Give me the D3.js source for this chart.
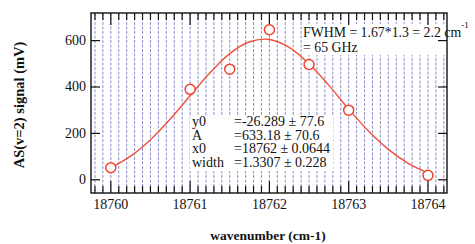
<!DOCTYPE html>
<html>
<head>
<meta charset="utf-8">
<script src="https://cdn.jsdelivr.net/npm/d3@7"></script>
<style>
  body { margin: 0; background: #fff; }
  svg { display: block; }
  text { font-family: "Liberation Serif", "DejaVu Serif", serif; fill: #111; }
</style>
</head>
<body>
<div id="chart"></div>
<script>
// measured points
var wavenumber = [18760, 18761, 18761.5, 18762, 18762.5, 18763, 18764];
var signal = [52, 390, 477, 647, 497, 300, 19];

// fit curve
var fitX = [18760, 18760.25, 18760.5, 18760.75, 18761, 18761.25, 18761.5, 18761.75,
            18762, 18762.25, 18762.5, 18762.75, 18763, 18763.25, 18763.5, 18763.75, 18764];
var fitY = [52, 102, 173, 262, 362, 461, 544, 595, 605, 571, 500, 407, 305, 210, 131, 71, 30];

var xTicks = [18760, 18761, 18762, 18763, 18764];
var yTicks = [0, 200, 400, 600];

var fitNames = ['y0', 'A', 'x0', 'width'];
var fitValues = ['=-26.289 \u00b1 77.6', '=633.18 \u00b1 70.6', '=18762 \u00b1 0.0644', '=1.3307 \u00b1 0.228'];

var width = 475, height = 244;
var plotL = 91, plotR = 447, plotT = 13, plotB = 193;

var svg = d3.select('#chart').append('svg')
  .attr('width', width)
  .attr('height', height);

var x = d3.scaleLinear().domain([18759.75, 18764.24]).range([plotL, plotR]);
var y = d3.scaleLinear().domain([-57, 719]).range([plotB, plotT]);

// minor steps every 0.1
var minor = d3.range(0, 45).map(function(i){ return +(18759.8 + i * 0.1).toFixed(1); });
var isMajor = function(v){ return Math.abs(v - Math.round(v)) < 1e-6; };

// dashed vertical grid
svg.append('g').selectAll('line')
  .data(minor)
  .enter()
  .append('line')
  .attr('x1', function(d){ return x(d) }).attr('x2', function(d){ return x(d) })
  .attr('y1', plotT).attr('y2', plotB)
  .attr('stroke', '#8c8cd2')
  .attr('stroke-width', 1)
  .attr('stroke-dasharray', '3,1.5');

// white boxes behind annotations
svg.append('rect').attr('x', 302).attr('y', 24).attr('width', 173).attr('height', 31).attr('fill', '#fff');
svg.append('rect').attr('x', 190).attr('y', 115).attr('width', 143).attr('height', 56).attr('fill', '#fff');

// inner ticks on all four sides
var tickG = svg.append('g').attr('stroke', '#111').attr('stroke-width', 1.2);
tickG.selectAll('.tt').data(minor).enter().append('line')
  .attr('x1', function(d){ return x(d) }).attr('x2', function(d){ return x(d) })
  .attr('y1', plotT).attr('y2', function(d){ return plotT + (isMajor(d) ? 12 : 7) });
tickG.selectAll('.bt').data(minor).enter().append('line')
  .attr('x1', function(d){ return x(d) }).attr('x2', function(d){ return x(d) })
  .attr('y1', plotB).attr('y2', function(d){ return plotB - (isMajor(d) ? 12 : 7) });
tickG.selectAll('.lt').data(yTicks).enter().append('line')
  .attr('x1', plotL).attr('x2', plotL + 9)
  .attr('y1', function(d){ return y(d) }).attr('y2', function(d){ return y(d) });
tickG.selectAll('.rt').data(yTicks).enter().append('line')
  .attr('x1', plotR - 9).attr('x2', plotR)
  .attr('y1', function(d){ return y(d) }).attr('y2', function(d){ return y(d) });

// frame
svg.append('rect')
  .attr('x', plotL).attr('y', plotT)
  .attr('width', plotR - plotL).attr('height', plotB - plotT)
  .attr('fill', 'none').attr('stroke', '#111').attr('stroke-width', 1.4);

// tick labels
svg.append('g').selectAll('text').data(xTicks).enter().append('text')
  .attr('x', function(d){ return x(d) }).attr('y', 209)
  .attr('text-anchor', 'middle').attr('font-size', 14)
  .text(function(d){ return d });
svg.append('g').selectAll('text').data(yTicks).enter().append('text')
  .attr('x', 86).attr('y', function(d){ return y(d) + 4.5 })
  .attr('text-anchor', 'end').attr('font-size', 14)
  .text(function(d){ return d });

// axis titles
svg.append('text')
  .attr('x', 268).attr('y', 240)
  .attr('text-anchor', 'middle').attr('font-size', 13.5).attr('font-weight', 'bold')
  .text('wavenumber (cm-1)');
svg.append('text')
  .attr('transform', 'translate(24,105) rotate(-90)')
  .attr('text-anchor', 'middle').attr('font-size', 14.5).attr('font-weight', 'bold')
  .text('AS(v=2) signal (mV)');

// fit curve
var line = d3.line()
  .x(function(d){ return x(d[0]) })
  .y(function(d){ return y(d[1]) })
  .curve(d3.curveCatmullRom);
svg.append('path')
  .datum(fitX.map(function(v, i){ return [v, fitY[i]]; }))
  .attr('d', line)
  .attr('fill', 'none')
  .attr('stroke', '#f0503a')
  .attr('stroke-width', 1.4);

// markers
svg.append('g').selectAll('circle')
  .data(wavenumber.map(function(v, i){ return [v, signal[i]]; }))
  .enter()
  .append('circle')
  .attr('cx', function(d){ return x(d[0]) })
  .attr('cy', function(d){ return y(d[1]) })
  .attr('r', 5)
  .attr('fill', '#fff')
  .attr('stroke', '#f0402e')
  .attr('stroke-width', 1.5);

// FWHM note
var note = svg.append('text').attr('font-size', 13.8);
note.append('tspan').attr('x', 303).attr('y', 37).text('FWHM = 1.67*1.3 = 2.2 cm');
note.append('tspan').attr('dy', -9).attr('font-size', 9).text('-1');
svg.append('text').attr('font-size', 13.8).attr('x', 303).attr('y', 52).text('= 65 GHz');

// fit results
svg.append('g').selectAll('text').data(fitNames).enter().append('text')
  .attr('x', 192).attr('y', function(d, i){ return 126 + i * 13.7 })
  .attr('font-size', 14)
  .text(function(d){ return d });
svg.append('g').selectAll('text').data(fitValues).enter().append('text')
  .attr('x', 234).attr('y', function(d, i){ return 126 + i * 13.7 })
  .attr('font-size', 14)
  .text(function(d){ return d });
</script>
</body>
</html>
